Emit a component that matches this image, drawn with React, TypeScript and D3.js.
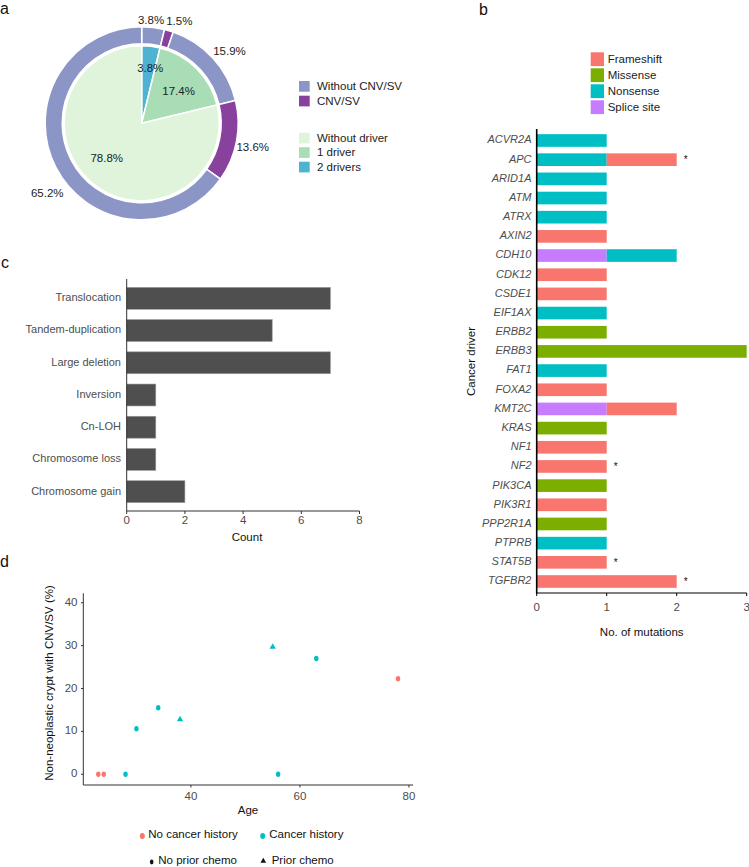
import React from 'react';
import * as d3 from 'd3';

// ---------- Panel a data ----------
const ringLabels = ['Without CNV/SV', 'CNV/SV', 'Without CNV/SV', 'CNV/SV', 'Without CNV/SV'];
const ringValues = [3.8, 1.5, 15.9, 13.6, 65.2];
const pieLabels = ['2 drivers', '1 driver', 'Without driver'];
const pieValues = [3.8, 17.4, 78.8];
const ringLegend = ['Without CNV/SV', 'CNV/SV'];
const pieLegend = ['Without driver', '1 driver', '2 drivers'];

// ---------- Panel b data ----------
const genes = ['ACVR2A', 'APC', 'ARID1A', 'ATM', 'ATRX', 'AXIN2', 'CDH10', 'CDK12', 'CSDE1', 'EIF1AX', 'ERBB2', 'ERBB3', 'FAT1', 'FOXA2', 'KMT2C', 'KRAS', 'NF1', 'NF2', 'PIK3CA', 'PIK3R1', 'PPP2R1A', 'PTPRB', 'STAT5B', 'TGFBR2'];
const spliceSite = [0, 0, 0, 0, 0, 0, 1, 0, 0, 0, 0, 0, 0, 0, 1, 0, 0, 0, 0, 0, 0, 0, 0, 0];
const nonsense = [1, 1, 1, 1, 1, 0, 1, 0, 0, 1, 0, 0, 1, 0, 0, 0, 0, 0, 0, 0, 0, 1, 0, 0];
const missense = [0, 0, 0, 0, 0, 0, 0, 0, 0, 0, 1, 3, 0, 0, 0, 1, 0, 0, 1, 0, 1, 0, 0, 0];
const frameshift = [0, 1, 0, 0, 0, 1, 0, 1, 1, 0, 0, 0, 0, 1, 1, 0, 1, 1, 0, 1, 0, 0, 1, 2];
const starredGenes = ['APC', 'NF2', 'STAT5B', 'TGFBR2'];
const mutationTypes = ['Frameshift', 'Missense', 'Nonsense', 'Splice site'];
const mutTicks = [0, 1, 2, 3];

// ---------- Panel c data ----------
const svCategories = ['Translocation', 'Tandem-duplication', 'Large deletion', 'Inversion', 'Cn-LOH', 'Chromosome loss', 'Chromosome gain'];
const svCounts = [7, 5, 7, 1, 1, 1, 2];
const countTicks = [0, 2, 4, 6, 8];

// ---------- Panel d data ----------
const ages = [23, 24, 78, 28, 30, 34, 56, 63, 38, 55];
const cnvPercent = [0, 0, 22.3, 0, 10.6, 15.5, 0, 27.0, 12.8, 29.7];
const cancerHistory = [false, false, false, true, true, true, true, true, true, true];
const priorChemo = [false, false, false, false, false, false, false, false, true, true];
const ageTicks = [40, 60, 80];
const pctTicks = [0, 10, 20, 30, 40];

const FONT = '"Liberation Sans", Arial, Helvetica, sans-serif';
const GREY = '#4d4d4d';
const RED = '#F8766D';
const CYAN = '#00BFC4';
const typeColors: Record<string, string> = {
  Frameshift: '#F8766D',
  Missense: '#7CAE00',
  Nonsense: '#00BFC4',
  'Splice site': '#C77CFF',
};
const ringColor = (l: string) => (l === 'CNV/SV' ? '#88419d' : '#8c96c6');
const pieColor = (l: string) => (l === '2 drivers' ? '#4eb3d3' : l === '1 driver' ? '#a8ddb5' : '#e0f3db');

function PanelA() {
  const cx = 141.7, cy = 123.3;
  const pie = d3.pie<number>().sort(null).value((d) => d);
  const ringArcs = pie(ringValues);
  const pieArcs = pie(pieValues);
  const ringArc = d3.arc<d3.PieArcDatum<number>>().innerRadius(79.5).outerRadius(96.5);
  const innerArc = d3.arc<d3.PieArcDatum<number>>().innerRadius(0).outerRadius(77.5);
  const ringLabelArc = d3.arc<d3.PieArcDatum<number>>().innerRadius(112).outerRadius(112);
  const ringNudge = [[-4, 9], [6, 6], [5, 4], [1, 4], [5, 19]];
  const innerLabelArc = d3.arc<d3.PieArcDatum<number>>().innerRadius(55).outerRadius(55);
  const innerNudge = [[2, 0], [-2, 8], [-1, -8]];
  return (
    <g>
      <text x={0} y={13.5} fontSize={16} fontFamily={FONT} fill="#111">a</text>
      <g transform={`translate(${cx},${cy})`}>
        {ringArcs.map((a, i) => (
          <path key={'r' + i} d={ringArc(a) || ''} fill={ringColor(ringLabels[i])} stroke="#fff" strokeWidth={1.5} />
        ))}
        {pieArcs.map((a, i) => (
          <path key={'p' + i} d={innerArc(a) || ''} fill={pieColor(pieLabels[i])} stroke="#fff" strokeWidth={1.5} />
        ))}
        {ringArcs.map((a, i) => {
          const [x, y] = ringLabelArc.centroid(a);
          return (
            <text key={'rl' + i} x={x + ringNudge[i][0]} y={y + ringNudge[i][1]} fontSize={11.5} fontFamily={FONT} fill="#222" textAnchor="middle" dominantBaseline="middle">
              {ringValues[i].toFixed(1)}%
            </text>
          );
        })}
        {pieArcs.map((a, i) => {
          const [x, y] = innerLabelArc.centroid(a);
          return (
            <text key={'pl' + i} x={x + innerNudge[i][0]} y={y + innerNudge[i][1]} fontSize={11.5} fontFamily={FONT} fill="#222" textAnchor="middle" dominantBaseline="middle">
              {pieValues[i].toFixed(1)}%
            </text>
          );
        })}
      </g>
      {ringLegend.map((l, i) => (
        <g key={'rlg' + i} transform={`translate(299,${81 + i * 14.7})`}>
          <rect width={10.7} height={10.7} fill={ringColor(l)} />
          <text x={18} y={9.2} fontSize={11.5} fontFamily={FONT} fill="#222">{l}</text>
        </g>
      ))}
      {pieLegend.map((l, i) => (
        <g key={'plg' + i} transform={`translate(299,${132.7 + i * 14.5})`}>
          <rect width={10.7} height={10.7} fill={pieColor(l)} />
          <text x={18} y={9.2} fontSize={11.5} fontFamily={FONT} fill="#222">{l}</text>
        </g>
      ))}
    </g>
  );
}

function PanelB() {
  const x = d3.scaleLinear().domain([0, 3]).range([536.7, 746.7]);
  const y = d3.scaleLinear().domain([-0.6, genes.length - 1 + 0.6]).range([129, 593]);
  const barH = 0.66 * (y(1) - y(0));
  const series: [string, number[]][] = [
    ['Splice site', spliceSite],
    ['Nonsense', nonsense],
    ['Missense', missense],
    ['Frameshift', frameshift],
  ];
  const rows = genes.map((g, i) => {
    let acc = 0;
    const segs = series.map(([name, vals]) => {
      const s = { name, x0: acc, x1: acc + vals[i] };
      acc += vals[i];
      return s;
    }).filter((s) => s.x1 > s.x0);
    return { g, i, segs, total: acc };
  });
  return (
    <g>
      <text x={479} y={15} fontSize={16} fontFamily={FONT} fill="#111">b</text>
      {mutationTypes.map((t, i) => (
        <g key={t} transform={`translate(590.7,${52.3 + i * 16})`}>
          <rect width={13.3} height={13.8} fill={typeColors[t]} />
          <text x={17} y={11} fontSize={11.5} fontFamily={FONT} fill="#222">{t}</text>
        </g>
      ))}
      {rows.map((r) => (
        <g key={r.g}>
          {r.segs.map((s) => (
            <rect key={s.name} x={x(s.x0)} y={y(r.i) - barH / 2} width={x(s.x1) - x(s.x0)} height={barH} fill={typeColors[s.name]} />
          ))}
          <text x={531.5} y={y(r.i)} fontSize={11} fontStyle="italic" fontFamily={FONT} fill={GREY} textAnchor="end" dominantBaseline="middle">{r.g}</text>
          {starredGenes.includes(r.g) && (
            <text x={x(r.total + 0.1)} y={y(r.i) + 1} fontSize={10} fontFamily={FONT} fill="#111" dominantBaseline="middle">*</text>
          )}
        </g>
      ))}
      <line x1={536.7} x2={536.7} y1={129} y2={593.5} stroke="#000" strokeWidth={1.6} />
      <line x1={536} x2={746.7} y1={593} y2={593} stroke="#000" strokeWidth={1.2} />
      {mutTicks.map((t) => (
        <g key={t}>
          <line x1={x(t)} x2={x(t)} y1={593} y2={596} stroke="#000" />
          <text x={x(t)} y={608} fontSize={11.5} fontFamily={FONT} fill={GREY} textAnchor="middle" dominantBaseline="middle">{t}</text>
        </g>
      ))}
      <text x={641.7} y={633} fontSize={11.5} fontFamily={FONT} fill="#111" textAnchor="middle" dominantBaseline="middle">No. of mutations</text>
      <text transform="translate(472,361.5) rotate(-90)" fontSize={11.5} fontFamily={FONT} fill="#111" textAnchor="middle" dominantBaseline="middle">Cancer driver</text>
    </g>
  );
}

function PanelC() {
  const x = d3.scaleLinear().domain([0, 8]).range([126.7, 359.5]);
  const y = d3.scaleLinear().domain([-0.6, svCategories.length - 1 + 0.6]).range([279, 511]);
  const barH = 0.68 * (y(1) - y(0));
  return (
    <g>
      <text x={1} y={268} fontSize={16} fontFamily={FONT} fill="#111">c</text>
      {svCategories.map((c, i) => (
        <g key={c}>
          <rect x={x(0)} y={y(i) - barH / 2} width={x(svCounts[i]) - x(0)} height={barH} fill="#4f4f4f" stroke="#9a9a9a" strokeWidth={0.6} />
          <text x={121} y={y(i)} fontSize={11} fontFamily={FONT} fill={GREY} textAnchor="end" dominantBaseline="middle">{c}</text>
        </g>
      ))}
      <line x1={126.7} x2={126.7} y1={279} y2={511} stroke="#333" strokeWidth={1} />
      <line x1={126.7} x2={359.5} y1={511} y2={511} stroke="#333" strokeWidth={1} />
      {countTicks.map((t) => (
        <g key={t}>
          <line x1={x(t)} x2={x(t)} y1={511} y2={514} stroke="#333" />
          <text x={x(t)} y={520.5} fontSize={11.5} fontFamily={FONT} fill={GREY} textAnchor="middle" dominantBaseline="middle">{t}</text>
        </g>
      ))}
      <text x={247} y={538} fontSize={11.5} fontFamily={FONT} fill="#111" textAnchor="middle" dominantBaseline="middle">Count</text>
    </g>
  );
}

function PanelD() {
  const x = d3.scaleLinear().domain([20.25, 80.75]).range([83.3, 413]);
  const y = d3.scaleLinear().domain([-2.5, 42.2]).range([785, 593.3]);
  const tri = d3.symbol().type(d3.symbolTriangle).size(17)() || '';
  const triSmall = d3.symbol().type(d3.symbolTriangle).size(14)() || '';
  return (
    <g>
      <text x={0} y={566.7} fontSize={16} fontFamily={FONT} fill="#111">d</text>
      <line x1={83.3} x2={83.3} y1={593.3} y2={785} stroke="#333" strokeWidth={1} />
      <line x1={83.3} x2={413} y1={785} y2={785} stroke="#333" strokeWidth={1} />
      {pctTicks.map((t) => (
        <g key={t}>
          <line x1={81} x2={83.3} y1={y(t)} y2={y(t)} stroke="#333" />
          <text x={77.5} y={y(t)} fontSize={11.5} fontFamily={FONT} fill={GREY} textAnchor="end" dominantBaseline="middle">{t}</text>
        </g>
      ))}
      {ageTicks.map((t) => (
        <g key={t}>
          <line x1={x(t)} x2={x(t)} y1={785} y2={787.5} stroke="#333" />
          <text x={x(t)} y={796.5} fontSize={11.5} fontFamily={FONT} fill={GREY} textAnchor="middle" dominantBaseline="middle">{t}</text>
        </g>
      ))}
      {ages.map((a, i) => {
        const c = cancerHistory[i] ? CYAN : RED;
        return priorChemo[i] ? (
          <path key={i} d={tri} transform={`translate(${x(a)},${y(cnvPercent[i])})`} fill={c} />
        ) : (
          <ellipse key={i} cx={x(a)} cy={y(cnvPercent[i])} rx={2.2} ry={2.7} fill={c} />
        );
      })}
      <text transform="translate(50,683) rotate(-90)" fontSize={11.5} fontFamily={FONT} fill="#111" textAnchor="middle" dominantBaseline="middle">Non-neoplastic crypt with CNV/SV (%)</text>
      <text x={248} y={811} fontSize={11.5} fontFamily={FONT} fill="#111" textAnchor="middle" dominantBaseline="middle">Age</text>
      {/* legend */}
      <ellipse cx={142.3} cy={836} rx={2.5} ry={3} fill={RED} />
      <text x={148.3} y={835} fontSize={11.5} fontFamily={FONT} fill="#111" dominantBaseline="middle">No cancer history</text>
      <ellipse cx={262.7} cy={836} rx={2.5} ry={3} fill={CYAN} />
      <text x={269.3} y={835} fontSize={11.5} fontFamily={FONT} fill="#111" dominantBaseline="middle">Cancer history</text>
      <ellipse cx={151.7} cy={862} rx={1.8} ry={2.4} fill="#111" />
      <text x={158.3} y={861} fontSize={11.5} fontFamily={FONT} fill="#111" dominantBaseline="middle">No prior chemo</text>
      <path d={triSmall} transform="translate(263.3,861)" fill="#111" />
      <text x={271.7} y={861} fontSize={11.5} fontFamily={FONT} fill="#111" dominantBaseline="middle">Prior chemo</text>
    </g>
  );
}

export default function App() {
  return (
    <svg width={749} height={867} viewBox="0 0 749 867" style={{ position: 'absolute', left: 0, top: 0, background: '#fff' }}>
      <rect width={749} height={867} fill="#fff" />
      <PanelA />
      <PanelB />
      <PanelC />
      <PanelD />
    </svg>
  );
}
